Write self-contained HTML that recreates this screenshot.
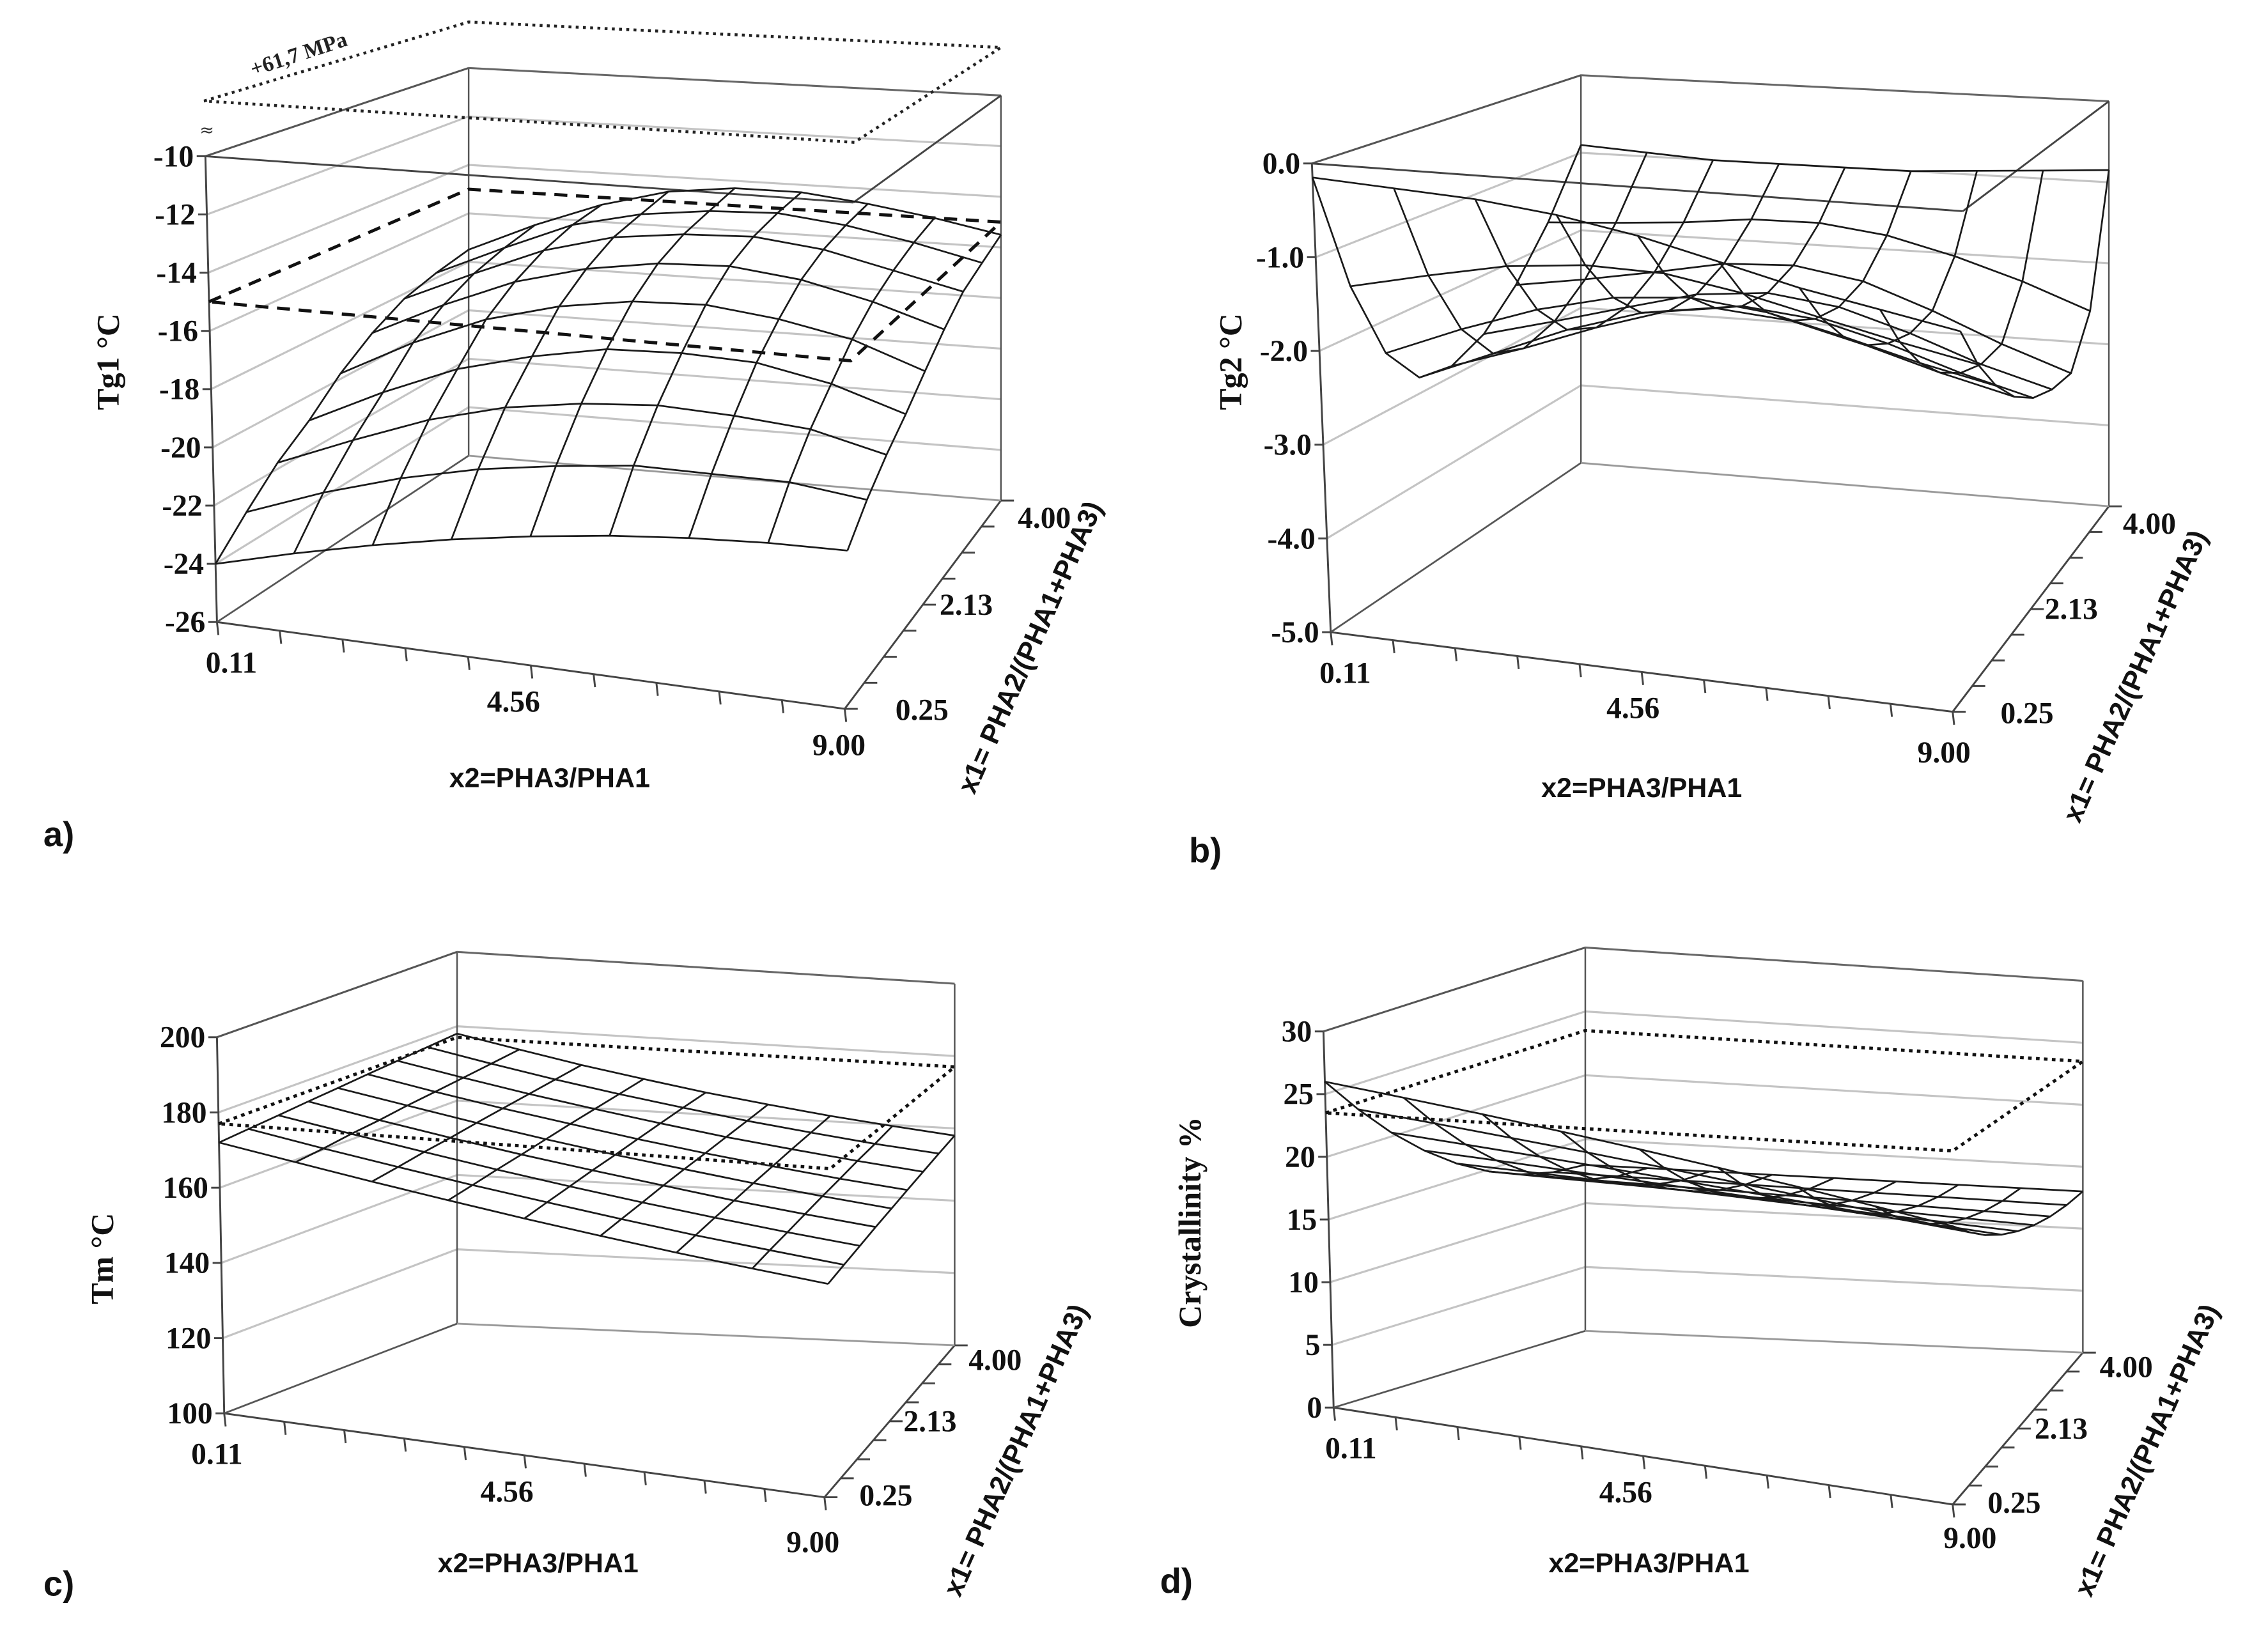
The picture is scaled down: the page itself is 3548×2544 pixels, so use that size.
<!DOCTYPE html>
<html><head><meta charset="utf-8"><style>
html,body{margin:0;padding:0;background:#fff;}
svg{display:block;}
.num{font-family:"Liberation Serif",serif;font-weight:bold;font-size:21px;fill:#111;}
.ttl{font-family:"Liberation Sans",sans-serif;font-weight:bold;font-size:19px;fill:#111;}
.sttl{font-family:"Liberation Serif",serif;font-weight:bold;font-size:22px;fill:#111;}
.lbl{font-family:"Liberation Sans",sans-serif;font-weight:bold;font-size:24px;fill:#111;}
</style></head><body>
<svg id="fig" xmlns="http://www.w3.org/2000/svg" width="3548" height="2544" viewBox="0 0 1568 1124" preserveAspectRatio="none">
<rect x="0" y="0" width="1568" height="1124" fill="#fff"/>
<text class="lbl" x="30" y="585">a)</text>
<text class="lbl" x="822" y="596">b)</text>
<text class="lbl" x="30" y="1103">c)</text>
<text class="lbl" x="802" y="1101">d)</text>

<text class="sttl" transform="translate(82,250) rotate(-90)" text-anchor="middle">Tg1 °C</text>
<text class="sttl" transform="translate(858,250) rotate(-90)" text-anchor="middle">Tg2 °C</text>
<text class="sttl" transform="translate(78,870) rotate(-90)" text-anchor="middle">Tm °C</text>
<text class="sttl" transform="translate(830,845) rotate(-90)" text-anchor="middle">Crystallinity %</text>

<text class="ttl" x="380" y="544" text-anchor="middle">x2=PHA3/PHA1</text>
<text class="ttl" x="1135" y="551" text-anchor="middle">x2=PHA3/PHA1</text>
<text class="ttl" x="372" y="1087" text-anchor="middle">x2=PHA3/PHA1</text>
<text class="ttl" x="1140" y="1087" text-anchor="middle">x2=PHA3/PHA1</text>

<text class="ttl" transform="translate(718,450) rotate(-66)" text-anchor="middle">x1= PHA2/(PHA1+PHA3)</text>
<text class="ttl" transform="translate(1482,470) rotate(-66)" text-anchor="middle">x1= PHA2/(PHA1+PHA3)</text>
<text class="ttl" transform="translate(708,1005) rotate(-66)" text-anchor="middle">x1= PHA2/(PHA1+PHA3)</text>
<text class="ttl" transform="translate(1490,1005) rotate(-66)" text-anchor="middle">x1= PHA2/(PHA1+PHA3)</text>

<text x="208" y="42" transform="rotate(-18 208 42)" text-anchor="middle" style="font-family:'Liberation Serif',serif;font-weight:bold;font-size:15px;fill:#222">+61,7 MPa</text>
<text x="143" y="94" text-anchor="middle" style="font-family:'DejaVu Sans',sans-serif;font-size:12px;fill:#333">≈</text>
<g id="plots"></g>
</svg>
<script>
// ---- data ----
const x2Labels = ['0.11', '4.56', '9.00'];
const x1Labels = ['0.25', '2.13', '4.00'];
const gridU = [0, 0.125, 0.25, 0.375, 0.5, 0.625, 0.75, 0.875, 1];
const gridV = [0, 0.125, 0.25, 0.375, 0.5, 0.625, 0.75, 0.875, 1];

const ticksA = [-10, -12, -14, -16, -18, -20, -22, -24, -26];
const ticksB = [0, -1, -2, -3, -4, -5];
const tickLabelsB = ['0.0', '-1.0', '-2.0', '-3.0', '-4.0', '-5.0'];
const ticksC = [200, 180, 160, 140, 120, 100];
const ticksD = [30, 25, 20, 15, 10, 5, 0];

const planeA = -15;
const limitA = -8.1;
const planeC = 177;
const planeD = 23.5;

const surfA = [
 [-24, -23.3, -22.69, -22.17, -21.75, -21.42, -21.19, -21.05, -21],
 [-22.87, -21.87, -21.07, -20.47, -20.07, -19.77, -19.77, -19.77, -20.07],
 [-21.78, -20.68, -19.68, -18.98, -18.58, -18.38, -18.48, -18.68, -19.28],
 [-20.9, -19.6, -18.5, -17.8, -17.3, -17.2, -17.3, -17.8, -18.6],
 [-19.8, -18.4, -17.3, -16.6, -16.2, -16.1, -16.4, -16.9, -17.8],
 [-18.9, -17.6, -16.5, -15.8, -15.4, -15.3, -15.6, -16.2, -17.0],
 [-18.2, -17.0, -15.9, -15.2, -14.9, -14.8, -15.1, -15.7, -16.3],
 [-17.8, -16.6, -15.5, -14.9, -14.6, -14.5, -14.8, -15.3, -15.9],
 [-17.5, -16.3, -15.3, -14.6, -14.3, -14.3, -14.6, -15.0, -15.5]
];
const surfB = [
 [-0.15, -0.2, -0.25, -0.35, -0.5, -0.7, -0.9, -1.05, -1.2],
 [-1.46, -1.27, -1.10, -1.02, -1.04, -1.18, -1.37, -1.55, -1.71],
 [-2.36, -2.02, -1.73, -1.53, -1.46, -1.55, -1.74, -1.95, -2.12],
 [-2.82, -2.47, -2.13, -1.87, -1.75, -1.82, -2.02, -2.25, -2.44],
 [-2.88, -2.60, -2.29, -2.03, -1.91, -1.99, -2.20, -2.46, -2.67],
 [-2.70, -2.48, -2.25, -2.03, -1.95, -2.05, -2.29, -2.58, -2.80],
 [-2.30, -2.17, -2.02, -1.86, -1.82, -1.95, -2.24, -2.57, -2.85],
 [-1.71, -1.66, -1.60, -1.51, -1.50, -1.60, -1.80, -2.05, -2.35],
 [-0.9, -0.95, -1.0, -1.0, -1.0, -1.0, -0.95, -0.9, -0.85]
];
const surfC = [
 [172, 168.4, 165.0, 161.9, 159.0, 156.4, 154.0, 151.9, 150],
 [172.75, 169.1, 165.8, 162.7, 159.9, 157.3, 154.9, 152.9, 151],
 [173.5, 170.0, 166.7, 163.6, 160.8, 158.2, 155.9, 153.8, 152],
 [174.3, 170.7, 167.4, 164.4, 161.7, 159.2, 156.8, 154.8, 153],
 [175, 171.6, 168.3, 165.3, 162.5, 160.1, 157.8, 155.8, 154],
 [175.8, 172.3, 169.1, 166.2, 163.4, 160.9, 158.7, 156.7, 155],
 [176.5, 173.1, 169.9, 167.0, 164.3, 161.8, 159.7, 157.7, 156],
 [177.3, 173.9, 170.7, 167.8, 165.2, 162.7, 160.6, 158.6, 157],
 [178, 174.7, 171.5, 168.7, 166, 163.7, 161.5, 159.7, 158]
];
const surfD = [
 [26, 25.06, 24.13, 23.19, 22.25, 21.31, 20.38, 19.44, 18.5],
 [22.96, 22.24, 21.52, 20.81, 20.09, 19.37, 18.65, 17.93, 17.21],
 [20.31, 19.78, 19.26, 18.73, 18.20, 17.67, 17.15, 16.62, 16.09],
 [18.08, 17.72, 17.35, 16.98, 16.62, 16.25, 15.88, 15.52, 15.15],
 [16.25, 16.02, 15.78, 15.55, 15.31, 15.08, 14.84, 14.61, 14.38],
 [14.83, 14.70, 14.57, 14.44, 14.30, 14.17, 14.04, 13.91, 13.78],
 [13.81, 13.75, 13.70, 13.64, 13.58, 13.52, 13.46, 13.40, 13.34],
 [13.20, 13.19, 13.17, 13.16, 13.14, 13.13, 13.12, 13.10, 13.09],
 [13, 13, 13, 13, 13, 13, 13, 13, 13]
];

// ---- geometry (layout, not data) ----
const NS = 'http://www.w3.org/2000/svg';
const root = document.getElementById('plots');
const panels = [
 {id:'a', F:[[150,430],[584,490],[324,315],[692,346]], T:[[142,108],[590,140],[324,47],[692,66]], zmin:-26, zmax:-10, topFront:true, ticks:ticksA, tl:ticksA.map(String), surf:surfA, xo:[[10,35],[-12,32],[-4,32]], dl:[[0.05,48,8],[0.5,30,0],[1,30,12]]},
 {id:'b', F:[[920,437],[1350,492],[1093,320],[1458,350]], T:[[907,113],[1357,146],[1093,52],[1458,70]], zmin:-5, zmax:0, topFront:true, ticks:ticksB, tl:tickLabelsB, surf:surfB, xo:[[10,35],[-6,32],[-6,35]], dl:[[0.05,46,8],[0.5,28,0],[1,28,12]]},
 {id:'c', F:[[155,977],[570,1035],[316,915],[660,930]], T:[[150,717],[575,740],[316,658],[660,680]], zmin:100, zmax:200, topFront:false, ticks:ticksC, tl:ticksC.map(String), surf:surfC, xo:[[-5,35],[-12,32],[-8,38]], dl:[[0.05,38,4],[0.5,28,0],[1,28,10]]},
 {id:'d', F:[[922,973],[1350,1040],[1096,920],[1440,935]], T:[[915,713],[1350,728],[1096,655],[1440,678]], zmin:0, zmax:30, topFront:false, ticks:ticksD, tl:ticksD.map(String), surf:surfD, xo:[[12,35],[-12,32],[12,30]], dl:[[0.05,38,4],[0.5,30,0],[1,30,10]]}
];
const planes = {a:planeA, c:planeC, d:planeD};

function bil(Q,u,v){
  const x=(1-u)*(1-v)*Q[0][0]+u*(1-v)*Q[1][0]+(1-u)*v*Q[2][0]+u*v*Q[3][0];
  const y=(1-u)*(1-v)*Q[0][1]+u*(1-v)*Q[1][1]+(1-u)*v*Q[2][1]+u*v*Q[3][1];
  return [x,y];
}
function proj(p,u,v,z){
  const w=(z-p.zmin)/(p.zmax-p.zmin);
  const f=bil(p.F,u,v), t=bil(p.T,u,v);
  return [f[0]+(t[0]-f[0])*w, f[1]+(t[1]-f[1])*w];
}
function add(tag, attrs, name, parent){
  const el=document.createElementNS(NS,tag);
  for(const k in attrs) el.setAttribute(k, attrs[k]);
  
  
  (parent||root).appendChild(el);
  return el;
}
function pts(a){return a.map(q=>q[0].toFixed(1)+','+q[1].toFixed(1)).join(' ');}
function line(a,b,stroke,sw,name,g,dash){
  const o={x1:a[0],y1:a[1],x2:b[0],y2:b[1],stroke:stroke,'stroke-width':sw};
  if(dash) o['stroke-dasharray']=dash;
  return add('line',o,name,g);
}

panels.forEach(p=>{
  const g=add('g',{},'panel-'+p.id);
  const [F00,F10,F01,F11]=p.F, [T00,T10,T01,T11]=p.T;
  p.ticks.forEach((z,i)=>{
    add('polyline',{points:pts([proj(p,0,0,z),proj(p,0,1,z),proj(p,1,1,z)]),fill:'none',stroke:'#c4c4c4','stroke-width':1.4},'gridline-'+p.id,g);
  });
  line(F00,T00,'#444',1.3,'z-axis-line-'+p.id,g);
  line(F01,T01,'#555',1.1,'back-left-edge-'+p.id,g);
  line(F11,T11,'#555',1.1,'back-right-edge-'+p.id,g);
  line(F00,F10,'#444',1.3,'x2-axis-line-'+p.id,g);
  line(F10,F11,'#444',1.3,'x1-axis-line-'+p.id,g);
  line(F00,F01,'#555',1.1,'floor-left-edge-'+p.id,g);
  line(F01,F11,'#999',1.1,'floor-back-edge-'+p.id,g);
  line(T00,T01,'#555',1.3,'top-left-edge-'+p.id,g);
  line(T01,T11,'#666',1.3,'top-back-edge-'+p.id,g);
  if(p.topFront){
    line(T00,T10,'#444',1.3,'top-front-edge-'+p.id,g);
    line(T10,T11,'#444',1.3,'top-right-edge-'+p.id,g);
  }
  p.ticks.forEach((z,i)=>{
    const q=proj(p,0,0,z);
    line([q[0]-6,q[1]],q,'#444',1.3,'z-tick-'+p.id,g);
    const t=add('text',{x:q[0]-8,y:q[1]+7,'text-anchor':'end','class':'num'},'z-tick-label-'+p.id,g);
    t.textContent=p.tl[i];
  });
  for(let k=0;k<=10;k++){
    const q=bil(p.F,k/10,0);
    line(q,[q[0]+1,q[1]+9],'#444',1.3,'x2-tick-'+p.id,g);
  }
  x2Labels.forEach((s,i)=>{
    const q=bil(p.F,i/2,0);
    const t=add('text',{x:q[0]+p.xo[i][0],y:q[1]+p.xo[i][1],'text-anchor':'middle','class':'num'},'x2-tick-label-'+p.id,g);
    t.textContent=s;
  });
  for(let k=0;k<=8;k++){
    const q=bil(p.F,1,k/8);
    line(q,[q[0]+9,q[1]],'#444',1.3,'x1-tick-'+p.id,g);
  }
  x1Labels.forEach((s,i)=>{
    const d=p.dl[i];
    const q=bil(p.F,1,d[0]);
    const t=add('text',{x:q[0]+d[1],y:q[1]+7+d[2],'text-anchor':'middle','class':'num'},'x1-tick-label-'+p.id,g);
    t.textContent=s;
  });
  if(planes[p.id]!==undefined){
    const z=planes[p.id];
    const c=[proj(p,0,0,z),proj(p,0,1,z),proj(p,1,1,z),proj(p,1,0,z)];
    const dash=p.id==='a'?'9,6':'2.5,3';
    add('polygon',{points:pts(c),fill:'none',stroke:'#111','stroke-width':2.2,'stroke-dasharray':dash},'reference-plane-'+p.id,g);
  }
  if(p.id==='a'){
    const c=[proj(p,0,0,limitA),proj(p,0,1,limitA),proj(p,1,1,limitA),proj(p,1,0,limitA)];
    add('polygon',{points:pts(c),fill:'none',stroke:'#222','stroke-width':2,'stroke-dasharray':'2,3'},'pressure-limit-plane',g);
  }
  const S=p.surf;
  gridV.forEach((v,j)=>{
    const a=gridU.map((u,i)=>proj(p,u,v,S[j][i]));
    add('polyline',{points:pts(a),fill:'none',stroke:'#1a1a1a','stroke-width':1.2},'surface-row-'+p.id,g);
  });
  gridU.forEach((u,i)=>{
    const a=gridV.map((v,j)=>proj(p,u,v,S[j][i]));
    add('polyline',{points:pts(a),fill:'none',stroke:'#1a1a1a','stroke-width':1.2},'surface-col-'+p.id,g);
  });
});
</script>
</body></html>
